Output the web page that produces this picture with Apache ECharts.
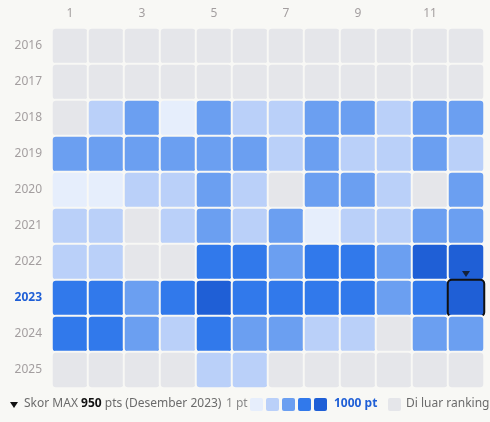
<!DOCTYPE html>
<html><head><meta charset="utf-8">
<script src="https://cdn.jsdelivr.net/npm/echarts@6/dist/echarts.min.js"></script>
<style>html,body{margin:0;padding:0;background:#f8f8f5}#c{width:490px;height:422px}</style>
</head><body><div id="c"></div>
<script>
const months = ['1','2','3','4','5','6','7','8','9','10','11','12'];
const years = ['2016','2017','2018','2019','2020','2021','2022','2023','2024','2025'];
// level 0 = outside ranking, 1..5 = score bands
const lv2016 = [0,0,0,0,0,0,0,0,0,0,0,0];
const lv2017 = [0,0,0,0,0,0,0,0,0,0,0,0];
const lv2018 = [0,2,3,1,3,2,2,3,3,2,3,3];
const lv2019 = [3,3,3,3,3,3,2,3,2,2,3,2];
const lv2020 = [1,1,2,2,3,2,0,3,3,2,0,3];
const lv2021 = [2,2,0,2,3,2,3,1,2,2,3,3];
const lv2022 = [2,2,0,0,4,4,3,4,4,3,5,5];
const lv2023 = [4,4,3,4,5,4,4,4,4,3,4,5];
const lv2024 = [4,4,3,2,4,3,3,2,2,0,3,3];
const lv2025 = [0,0,0,0,2,2,0,0,0,0,0,0];
const rows = [lv2016,lv2017,lv2018,lv2019,lv2020,lv2021,lv2022,lv2023,lv2024,lv2025];
const colors = ['#e5e6ea','#e6eefc','#bad0f9','#6b9ff1','#3179eb','#1f5fd6'];
const maxYear = '2023', maxMonth = '12';

const data = [];
rows.forEach((r,yi)=>r.forEach((v,mi)=>{
  const item = {value:[mi,yi,v], itemStyle:{color:colors[v], borderRadius:4}};
  if (years[yi]===maxYear && months[mi]===maxMonth) {
    item.itemStyle.borderColor='#111'; item.itemStyle.borderWidth=2;
  }
  data.push(item);
}));
const ch = echarts.init(document.getElementById('c'));
const font = '"Source Sans Pro","Noto Sans",sans-serif';
const gx = 420; // legend
ch.setOption({
  backgroundColor:'#f8f8f5',
  textStyle:{fontFamily:font},
  grid:{left:52,right:6,top:28,bottom:34},
  xAxis:{type:'category',data:months,position:'top',axisLine:{show:false},axisTick:{show:false},
    axisLabel:{fontSize:12,margin:8,color:'#a39e9f',
      formatter:v=>v===maxMonth?'{b|'+v+'}':v,rich:{b:{fontWeight:'bold',color:'#1f5fd6',fontSize:12}}},
    splitLine:{show:false}},
  yAxis:{type:'category',data:years,inverse:true,axisLine:{show:false},axisTick:{show:false},
    axisLabel:{fontSize:12,margin:10,color:'#a39e9f',
      formatter:v=>v===maxYear?'{b|'+v+'}':v,rich:{b:{fontWeight:'bold',color:'#1f5fd6',fontSize:12}}}},
  series:[
    {type:'heatmap',data:data,itemStyle:{borderColor:'#f8f8f5',borderWidth:2},emphasis:{disabled:true}},
    {type:'scatter',data:[[maxMonth,maxYear]],symbol:'triangle',symbolRotate:180,symbolSize:[8,6],
     symbolOffset:[0,-24],itemStyle:{color:'#111'},silent:true,z:5}
  ],
  graphic:[
    {type:'polygon',shape:{points:[[10,402],[18,402],[14,408]]},style:{fill:'#111'}},
    {type:'text',left:24,top:398,style:{text:'{a|Skor MAX }{b|950}{a| pts (Desember 2023)}',
      rich:{a:{fontSize:12,fill:'#6b6b6b',fontFamily:font},b:{fontSize:12,fontWeight:'bold',fill:'#111',fontFamily:font}}}},
    {type:'text',left:226,top:398,style:{text:'1 pt',fontSize:12,fill:'#8a8a8a',fontFamily:font}},
    ...[1,2,3,4,5].map((k,i)=>({type:'rect',shape:{x:250+i*16,y:398,width:13,height:13,r:2},style:{fill:colors[k]}})),
    {type:'text',left:334,top:398,style:{text:'1000 pt',fontSize:12,fontWeight:'bold',fill:'#1f5fd6',fontFamily:font}},
    {type:'rect',shape:{x:388,y:398,width:13,height:13,r:2},style:{fill:colors[0]}},
    {type:'text',left:406,top:398,style:{text:'Di luar ranking',fontSize:12,fill:'#6b6b6b',fontFamily:font}}
  ]
});
</script></body></html>
